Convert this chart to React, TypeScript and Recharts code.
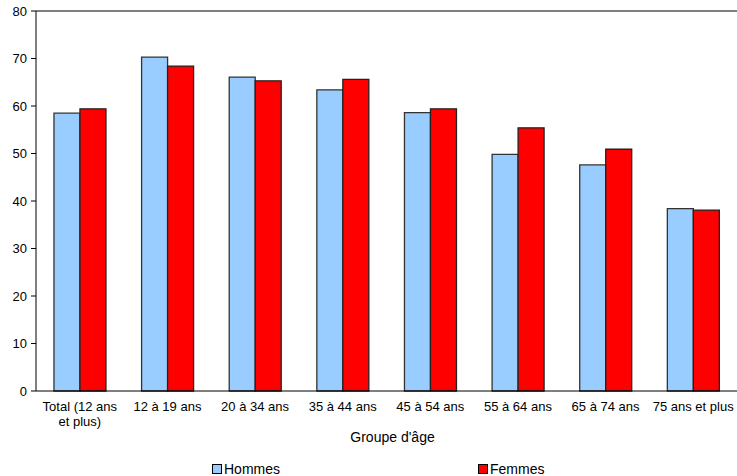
import React from 'react';
import { BarChart, Bar, XAxis, YAxis, ReferenceLine, Legend } from 'recharts';

const categories = [
  'Total (12 ans\net plus)',
  '12 à 19 ans',
  '20 à 34 ans',
  '35 à 44 ans',
  '45 à 54 ans',
  '55 à 64 ans',
  '65 à 74 ans',
  '75 ans et plus',
];
const hommes = [58.5, 70.3, 66.1, 63.4, 58.6, 49.8, 47.6, 38.4];
const femmes = [59.4, 68.4, 65.3, 65.6, 59.4, 55.4, 50.9, 38.1];
const yTicks = [0, 10, 20, 30, 40, 50, 60, 70, 80];

const data = categories.map((groupe, i) => ({ groupe, hommes: hommes[i], femmes: femmes[i] }));

const font = 'Arial, "Liberation Sans", sans-serif';

const CategoryTick = (props: any) => {
  const { x, y, payload } = props;
  const lines = String(payload.value).split('\n');
  return (
    <text x={x} y={y} textAnchor="middle" fill="#000" fontSize={13} fontFamily={font}>
      {lines.map((line, i) => (
        <tspan key={i} x={x} dy={i === 0 ? 12 : 15}>
          {line}
        </tspan>
      ))}
    </text>
  );
};

const legendPos: Record<string, number> = { Hommes: 212, Femmes: 478 };

const ChartLegend = (props: any) => {
  const { payload } = props;
  return (
    <div style={{ position: 'relative', width: 737, height: 24, fontFamily: font, fontSize: 14 }}>
      {payload.map((entry: any) => (
        <div
          key={entry.value}
          style={{ position: 'absolute', left: legendPos[entry.value], top: 9, display: 'flex', alignItems: 'center' }}
        >
          <span
            style={{
              display: 'inline-block',
              width: 8,
              height: 8,
              background: entry.color,
              border: '1px solid #000',
              marginRight: 2,
            }}
          />
          <span style={{ color: '#000' }}>{entry.value}</span>
        </div>
      ))}
    </div>
  );
};

export default function App() {
  return (
    <div style={{ position: 'absolute', left: 0, top: 0, width: 737, height: 476, overflow: 'hidden', background: '#fff' }}>
      <BarChart
        width={737}
        height={476}
        data={data}
        margin={{ top: 11, right: 0, left: 0, bottom: 0 }}
        barCategoryGap="20.5%"
        barGap={0}
      >
        <YAxis
          domain={[0, 80]}
          ticks={yTicks}
          width={36}
          axisLine={{ stroke: '#000' }}
          tickLine={{ stroke: '#000' }}
          tickSize={5}
          tickMargin={4}
          tick={{ fill: '#000', fontSize: 13, fontFamily: font }}
        />
        <XAxis
          dataKey="groupe"
          height={61}
          interval={0}
          axisLine={{ stroke: '#000' }}
          tickLine={false}
          tick={<CategoryTick />}
          label={{ value: "Groupe d'âge", position: 'insideBottom', offset: 10, dx: 6, fill: '#000', fontSize: 14, fontFamily: font }}
        />
        <ReferenceLine y={80} stroke="#000" />
        <Legend verticalAlign="bottom" content={<ChartLegend />} />
        <Bar dataKey="hommes" name="Hommes" fill="#99CCFF" stroke="#333" strokeWidth={1.3} isAnimationActive={false} />
        <Bar dataKey="femmes" name="Femmes" fill="#FF0000" stroke="#222" strokeWidth={1.3} isAnimationActive={false} />
      </BarChart>
    </div>
  );
}
